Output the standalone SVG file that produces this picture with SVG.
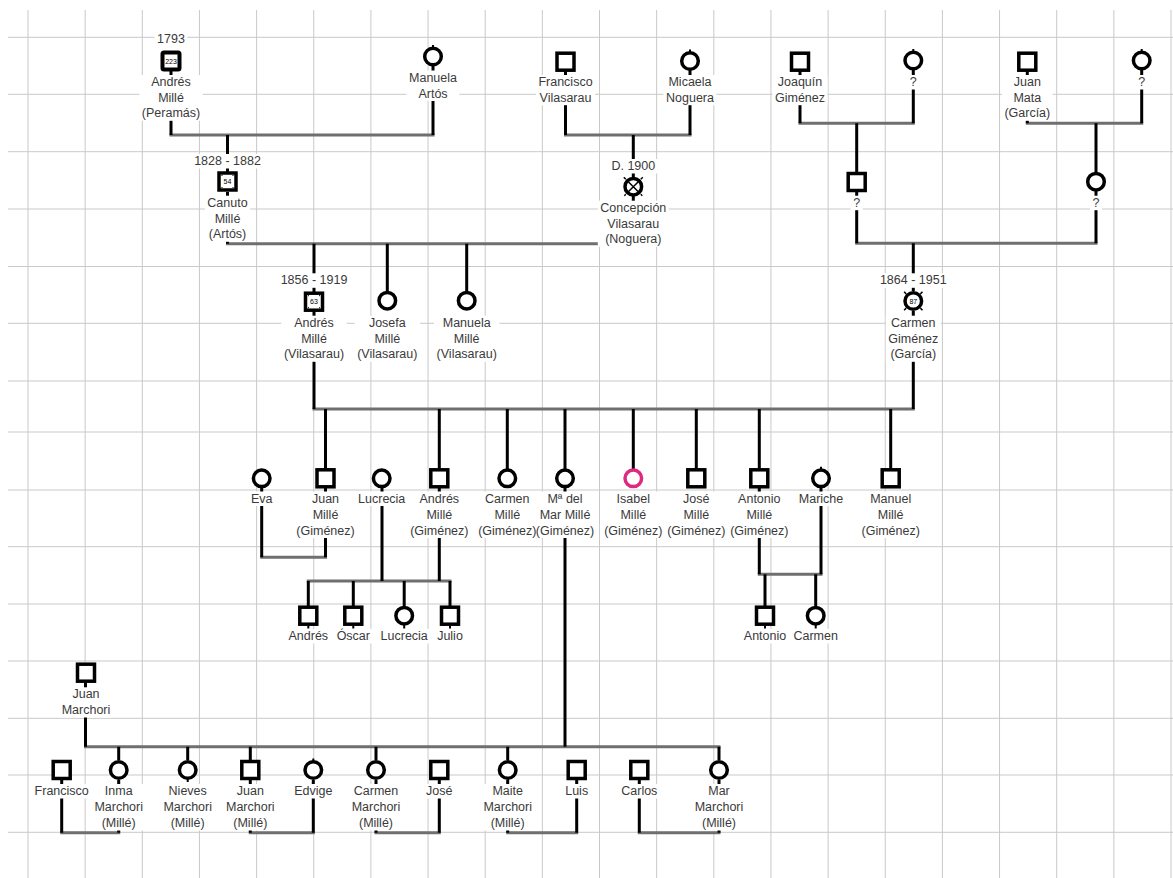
<svg xmlns="http://www.w3.org/2000/svg" width="1173" height="878" viewBox="0 0 1173 878">
<style>
.grid{stroke:#c9c9c9;stroke-width:1;fill:none}
.h{stroke:#6f6f6f;stroke-width:3;fill:none;stroke-linecap:square}
.v{stroke:#000;stroke-width:3;fill:none}
.lb{fill:#fff}
.t{font-family:"Liberation Sans",Arial,sans-serif;font-size:12.5px;fill:#3a3a3a;text-anchor:middle}
.s{fill:#fff;stroke:#000;stroke-width:3.5}
.pk{fill:#fff;stroke:#dd2a80;stroke-width:3.5}
.st{stroke:#000;stroke-width:2}
.num{font-family:"Liberation Sans",Arial,sans-serif;font-size:7px;fill:#000;text-anchor:middle}
.tk{stroke:#000;stroke-width:1.5}
</style>
<rect width="1173" height="878" fill="#fff"/>
<g id="grid" class="grid">
<path d="M28 10V878M85.15 10V878M142.3 10V878M199.45 10V878M256.6 10V878M313.75 10V878M370.9 10V878M428.05 10V878M485.2 10V878M542.35 10V878M599.5 10V878M656.65 10V878M713.8 10V878M770.95 10V878M828.1 10V878M885.25 10V878M942.4 10V878M999.55 10V878M1056.7 10V878M1113.85 10V878M1171 10V878"/>
<path d="M8 37.3H1173M8 94.3H1173M8 151.7H1173M8 209H1173M8 266.5H1173M8 323.3H1173M8 381H1173M8 432H1173M8 490H1173M8 546.7H1173M8 604H1173M8 661H1173M8 718.3H1173M8 775H1173M8 832.3H1173"/>
</g>
<g id="connectors">
<path class="h" d="M171 135H433M565.5 135H690M800 123.3H913.3M1027.3 123.3H1141.7M856.7 243.3H1096M227.5 243.7H633.3M314 409H913.3M261.7 557.3H325.5M308.3 581H450M759.3 574.3H821M85.5 746.7H719M61.7 832.7H118.7M250.3 832.7H313.3M376 832.7H439.3M507.7 832.7H576.7M639.3 832.7H719"/>
<path class="v" d="M171 71V135M433 66V135M227.5 135V172M565.5 71V135M690 70V135M633.3 135V177M800 71V123.3M913.3 69V123.3M856.7 123.3V172M1027.3 71V123.3M1141.7 69V123.3M1096 123.3V172M856.7 192V243.3M1096 191V243.3M913.3 243.3V291M227.5 192V243.7M633.3 196V243.7M314 243.7V292M387.3 243.7V291M466.7 243.7V291M314 311V409M913.3 311V409M325.5 409V469M439.3 409V469M507.3 409V469M565 409V469M633.3 409V469M696.3 409V469M759.3 409V469M890.7 409V469M261.7 488V557.3M325.5 488V557.3M382 488V581M439.3 488V581M308.3 581V606M353.3 581V606M404.2 581V606M450 581V606M759.3 488V574.3M821 488V574.3M765 574.3V606M815.7 574.3V606M565 488V746.7M85.5 683V746.7M118.7 746.7V760M187.7 746.7V760M250.3 746.7V760M376 746.7V760M507.7 746.7V760M719 746.7V760M61.7 780V832.7M118.7 780V832.7M250.3 780V832.7M313.3 780V832.7M376 780V832.7M439.3 780V832.7M507.7 780V832.7M576.7 780V832.7M639.3 780V832.7M719 780V832.7"/>
</g>
<g id="label-backgrounds" class="lb">
<rect x="154.6" y="32" width="32.8" height="14.5"/><rect x="139.4" y="75" width="63.3" height="45.8"/>
<rect x="406.5" y="70.5" width="52.9" height="30.5"/>
<rect x="535.9" y="75" width="59.2" height="30.2"/>
<rect x="663.5" y="75" width="52.9" height="30.2"/>
<rect x="772.5" y="75" width="55" height="30.2"/>
<rect x="907.3" y="75" width="12" height="14.5"/>
<rect x="1001.9" y="75" width="50.8" height="45.8"/>
<rect x="1135.7" y="75" width="12" height="14.5"/>
<rect x="191.65" y="154" width="71.7" height="14.5"/><rect x="204.85" y="195.7" width="45.3" height="46.1"/>
<rect x="608.9" y="159" width="48.8" height="14.5"/><rect x="597.8" y="200.7" width="71" height="46.1"/>
<rect x="850.7" y="195.7" width="12" height="14.5"/>
<rect x="1090" y="195.7" width="12" height="14.5"/>
<rect x="278.15" y="273.3" width="71.7" height="14.5"/><rect x="281.3" y="315.7" width="65.4" height="46.1"/>
<rect x="354.6" y="315.7" width="65.4" height="46.1"/>
<rect x="434" y="315.7" width="65.4" height="46.1"/>
<rect x="877.45" y="273.3" width="71.7" height="14.5"/><rect x="885.8" y="315.7" width="55" height="46.1"/>
<rect x="248.45" y="491.5" width="26.5" height="14.5"/>
<rect x="293.85" y="491.5" width="63.3" height="46.5"/>
<rect x="355.6" y="491.5" width="52.2" height="14.5"/>
<rect x="407.65" y="491.5" width="63.3" height="46.5"/>
<rect x="475.65" y="491.5" width="63.3" height="46.5"/>
<rect x="533.35" y="491.5" width="63.3" height="46.5"/>
<rect x="601.65" y="491.5" width="63.3" height="46.5"/>
<rect x="664.65" y="491.5" width="63.3" height="46.5"/>
<rect x="727.65" y="491.5" width="63.3" height="46.5"/>
<rect x="796.25" y="491.5" width="49.5" height="14.5"/>
<rect x="859.05" y="491.5" width="63.3" height="46.5"/>
<rect x="286" y="629" width="44.6" height="14.5"/>
<rect x="334.15" y="629" width="38.3" height="14.5"/>
<rect x="378.1" y="629" width="52.2" height="14.5"/>
<rect x="434.65" y="629" width="30.7" height="14.5"/>
<rect x="741.3" y="629" width="47.4" height="14.5"/>
<rect x="790.95" y="629" width="49.5" height="14.5"/>
<rect x="59.2" y="687.3" width="53.6" height="30.2"/>
<rect x="32.1" y="784" width="59.2" height="14.5"/>
<rect x="91.9" y="784" width="53.6" height="46.5"/>
<rect x="160.9" y="784" width="53.6" height="46.5"/>
<rect x="223.5" y="784" width="53.6" height="46.5"/>
<rect x="291.7" y="784" width="43.2" height="14.5"/>
<rect x="349.2" y="784" width="53.6" height="46.5"/>
<rect x="423.6" y="784" width="31.4" height="14.5"/>
<rect x="480.9" y="784" width="53.6" height="46.5"/>
<rect x="562.75" y="784" width="27.9" height="14.5"/>
<rect x="618.75" y="784" width="41.1" height="14.5"/>
<rect x="692.2" y="784" width="53.6" height="46.5"/>
</g>

<g id="n-andres-mille-peramas">
<text class="t" x="171" y="43">1793</text>
<rect class="s" x="162.5" y="52.5" width="17" height="17" rx="1.5" style="stroke-width:4"/>
<text class="num" x="171" y="63.7">223</text>
<line class="st" x1="171" y1="71" x2="171" y2="74"/>
<text class="t" x="171" y="86">Andrés</text><text class="t" x="171" y="101.7">Millé</text><text class="t" x="171" y="117.3">(Peramás)</text>
</g>
<g id="n-manuela-artos">
<circle class="s" cx="433" cy="56.5" r="8.3"/><line class="st" x1="433" y1="45" x2="433" y2="48"/>
<text class="t" x="433" y="81.5">Manuela</text><text class="t" x="433" y="97.5">Artós</text>
</g>
<g id="n-francisco-vilasarau">
<rect class="s" x="557" y="53.2" width="17" height="17"/>
<text class="t" x="565.5" y="86">Francisco</text><text class="t" x="565.5" y="101.7">Vilasarau</text>
</g>
<g id="n-micaela-noguera">
<circle class="s" cx="690" cy="61" r="8.3"/><line class="st" x1="690" y1="49.5" x2="690" y2="52.5"/>
<text class="t" x="690" y="86">Micaela</text><text class="t" x="690" y="101.7">Noguera</text>
</g>
<g id="n-joaquin-gimenez">
<rect class="s" x="791.5" y="53.2" width="17" height="17"/>
<text class="t" x="800" y="86">Joaquín</text><text class="t" x="800" y="101.7">Giménez</text>
</g>
<g id="n-unknown-1">
<circle class="s" cx="913.3" cy="60.5" r="8.3"/><line class="st" x1="913.3" y1="49" x2="913.3" y2="52"/>
<text class="t" x="913.3" y="86">?</text>
</g>
<g id="n-juan-mata-garcia">
<rect class="s" x="1018.8" y="53.2" width="17" height="17"/>
<text class="t" x="1027.3" y="86">Juan</text><text class="t" x="1027.3" y="101.7">Mata</text><text class="t" x="1027.3" y="117.3">(García)</text>
</g>
<g id="n-unknown-2">
<circle class="s" cx="1141.7" cy="60.5" r="8.3"/><line class="st" x1="1141.7" y1="49" x2="1141.7" y2="52"/>
<text class="t" x="1141.7" y="86">?</text>
</g>
<g id="n-canuto-mille-artos">
<text class="t" x="227.5" y="165">1828 - 1882</text>
<rect class="s" x="219" y="173" width="17" height="17"/>
<text class="num" x="227.5" y="184">54</text>
<path class="tk" d="M221.5 175.5h1M232.5 175.5h1M221.5 187.5h1M232.5 187.5h1" style="stroke-width:1"/>
<text class="t" x="227.5" y="206.7">Canuto</text><text class="t" x="227.5" y="222.5">Millé</text><text class="t" x="227.5" y="238.3">(Artós)</text>
</g>
<g id="n-concepcion-vilasarau-noguera">
<text class="t" x="633.3" y="170">D. 1900</text>
<circle class="s" cx="633.3" cy="186.7" r="8.3"/>
<path class="tk" d="M628.3 181.7L638.3 191.7M638.3 181.7L628.3 191.7M625.8 179.2L623.8 177.2M640.8 179.2L642.8 177.2M625.8 194.2L624.3 195.7M640.8 194.2L642.3 195.7"/>
<text class="t" x="633.3" y="211.7">Concepción</text><text class="t" x="633.3" y="227.5">Vilasarau</text><text class="t" x="633.3" y="243.3">(Noguera)</text>
</g>
<g id="n-unknown-3">
<rect class="s" x="848.2" y="173.5" width="17" height="17"/>
<text class="t" x="856.7" y="206.7">?</text>
</g>
<g id="n-unknown-4">
<circle class="s" cx="1096" cy="181.7" r="8.3"/>
<text class="t" x="1096" y="206.7">?</text>
</g>
<g id="n-andres-mille-vilasarau">
<text class="t" x="314" y="284.3">1856 - 1919</text>
<rect class="s" x="305.5" y="293.2" width="17" height="17"/>
<text class="num" x="314" y="304.2">63</text>
<path class="tk" d="M308 295.7h1M319 295.7h1M308 307.7h1M319 307.7h1" style="stroke-width:1"/>
<text class="t" x="314" y="326.7">Andrés</text><text class="t" x="314" y="342.5">Millé</text><text class="t" x="314" y="358.3">(Vilasarau)</text>
</g>
<g id="n-josefa-mille-vilasarau">
<circle class="s" cx="387.3" cy="300.7" r="8.3"/>
<text class="t" x="387.3" y="326.7">Josefa</text><text class="t" x="387.3" y="342.5">Millé</text><text class="t" x="387.3" y="358.3">(Vilasarau)</text>
</g>
<g id="n-manuela-mille-vilasarau">
<circle class="s" cx="466.7" cy="300.7" r="8.3"/>
<text class="t" x="466.7" y="326.7">Manuela</text><text class="t" x="466.7" y="342.5">Millé</text><text class="t" x="466.7" y="358.3">(Vilasarau)</text>
</g>
<g id="n-carmen-gimenez-garcia">
<text class="t" x="913.3" y="284.3">1864 - 1951</text>
<circle class="s" cx="913.3" cy="301" r="8.3"/>
<text class="num" x="913.3" y="303.5">87</text>
<path class="tk" d="M920.4 293.9L922.5 291.8M906.2 293.9L904.1 291.8M920.4 308.1L922.5 310.2M906.2 308.1L904.1 310.2"/>
<text class="t" x="913.3" y="326.7">Carmen</text><text class="t" x="913.3" y="342.5">Giménez</text><text class="t" x="913.3" y="358.3">(García)</text>
</g>

<g id="n-eva">
<circle class="s" cx="261.7" cy="478.3" r="8.3"/>
<text class="t" x="261.7" y="502.5">Eva</text>
</g>
<g id="n-juan-mille-gimenez">
<rect class="s" x="317" y="469.8" width="17" height="17"/>
<text class="t" x="325.5" y="502.5">Juan</text><text class="t" x="325.5" y="518.5">Millé</text><text class="t" x="325.5" y="534.5">(Giménez)</text>
</g>
<g id="n-lucrecia">
<circle class="s" cx="381.7" cy="478.3" r="8.3"/>
<text class="t" x="381.7" y="502.5">Lucrecia</text>
</g>
<g id="n-andres-mille-gimenez">
<rect class="s" x="430.8" y="469.8" width="17" height="17"/>
<text class="t" x="439.3" y="502.5">Andrés</text><text class="t" x="439.3" y="518.5">Millé</text><text class="t" x="439.3" y="534.5">(Giménez)</text>
</g>
<g id="n-carmen-mille-gimenez">
<circle class="s" cx="507.3" cy="478.3" r="8.3"/>
<text class="t" x="507.3" y="502.5">Carmen</text><text class="t" x="507.3" y="518.5">Millé</text><text class="t" x="507.3" y="534.5">(Giménez)</text>
</g>
<g id="n-mar-mille-gimenez">
<circle class="s" cx="565" cy="478.3" r="8.3"/>
<text class="t" x="565" y="502.5">Mª del</text><text class="t" x="565" y="518.5">Mar Millé</text><text class="t" x="565" y="534.5">(Giménez)</text>
</g>
<g id="n-isabel-mille-gimenez">
<circle class="pk" cx="633.3" cy="478.3" r="8.3"/>
<text class="t" x="633.3" y="502.5">Isabel</text><text class="t" x="633.3" y="518.5">Millé</text><text class="t" x="633.3" y="534.5">(Giménez)</text>
</g>
<g id="n-jose-mille-gimenez">
<rect class="s" x="687.8" y="469.8" width="17" height="17"/>
<text class="t" x="696.3" y="502.5">José</text><text class="t" x="696.3" y="518.5">Millé</text><text class="t" x="696.3" y="534.5">(Giménez)</text>
</g>
<g id="n-antonio-mille-gimenez">
<rect class="s" x="750.8" y="469.8" width="17" height="17"/>
<text class="t" x="759.3" y="502.5">Antonio</text><text class="t" x="759.3" y="518.5">Millé</text><text class="t" x="759.3" y="534.5">(Giménez)</text>
</g>
<g id="n-mariche">
<circle class="s" cx="821" cy="478.3" r="8.3"/><line class="st" x1="821" y1="466.8" x2="821" y2="469.8"/>
<text class="t" x="821" y="502.5">Mariche</text>
</g>
<g id="n-manuel-mille-gimenez">
<rect class="s" x="882.2" y="469.8" width="17" height="17"/>
<text class="t" x="890.7" y="502.5">Manuel</text><text class="t" x="890.7" y="518.5">Millé</text><text class="t" x="890.7" y="534.5">(Giménez)</text>
</g>

<g id="n-andres-jr">
<rect class="s" x="299.8" y="607.2" width="17" height="17"/><line class="st" x1="308.3" y1="625.7" x2="308.3" y2="628.5"/>
<text class="t" x="308.3" y="640">Andrés</text>
</g>
<g id="n-oscar">
<rect class="s" x="344.8" y="607.2" width="17" height="17"/><line class="st" x1="353.3" y1="625.7" x2="353.3" y2="628.5"/>
<text class="t" x="353.3" y="640">Óscar</text>
</g>
<g id="n-lucrecia-jr">
<circle class="s" cx="404.2" cy="615.7" r="8.3"/><line class="st" x1="404.2" y1="624" x2="404.2" y2="628.5"/>
<text class="t" x="404.2" y="640">Lucrecia</text>
</g>
<g id="n-julio">
<rect class="s" x="441.5" y="607.2" width="17" height="17"/><line class="st" x1="450" y1="625.7" x2="450" y2="628.5"/>
<text class="t" x="450" y="640">Julio</text>
</g>
<g id="n-antonio-jr">
<rect class="s" x="756.5" y="607.2" width="17" height="17"/><line class="st" x1="765" y1="625.7" x2="765" y2="628.5"/>
<text class="t" x="765" y="640">Antonio</text>
</g>
<g id="n-carmen-jr">
<circle class="s" cx="815.7" cy="615.7" r="8.3"/><line class="st" x1="815.7" y1="624" x2="815.7" y2="628.5"/>
<text class="t" x="815.7" y="640">Carmen</text>
</g>

<g id="n-juan-marchori">
<rect class="s" x="77.5" y="664.2" width="17" height="17"/>
<text class="t" x="86" y="698.3">Juan</text><text class="t" x="86" y="714">Marchori</text>
</g>
<g id="n-francisco">
<rect class="s" x="53.2" y="761.5" width="17" height="17"/>
<text class="t" x="61.7" y="795">Francisco</text>
</g>
<g id="n-inma-marchori-mille">
<circle class="s" cx="118.7" cy="770" r="8.3"/>
<text class="t" x="118.7" y="795">Inma</text><text class="t" x="118.7" y="811">Marchori</text><text class="t" x="118.7" y="827">(Millé)</text>
</g>
<g id="n-nieves-marchori-mille">
<circle class="s" cx="187.7" cy="770" r="8.3"/><line class="st" x1="187.7" y1="778" x2="187.7" y2="782"/>
<text class="t" x="187.7" y="795">Nieves</text><text class="t" x="187.7" y="811">Marchori</text><text class="t" x="187.7" y="827">(Millé)</text>
</g>
<g id="n-juan-marchori-mille">
<rect class="s" x="241.8" y="761.5" width="17" height="17"/>
<text class="t" x="250.3" y="795">Juan</text><text class="t" x="250.3" y="811">Marchori</text><text class="t" x="250.3" y="827">(Millé)</text>
</g>
<g id="n-edvige">
<circle class="s" cx="313.3" cy="770" r="8.3"/><line class="st" x1="313.3" y1="758.5" x2="313.3" y2="761.5"/>
<text class="t" x="313.3" y="795">Edvige</text>
</g>
<g id="n-carmen-marchori-mille">
<circle class="s" cx="376" cy="770" r="8.3"/>
<text class="t" x="376" y="795">Carmen</text><text class="t" x="376" y="811">Marchori</text><text class="t" x="376" y="827">(Millé)</text>
</g>
<g id="n-jose">
<rect class="s" x="430.8" y="761.5" width="17" height="17"/>
<text class="t" x="439.3" y="795">José</text>
</g>
<g id="n-maite-marchori-mille">
<circle class="s" cx="507.7" cy="770" r="8.3"/>
<text class="t" x="507.7" y="795">Maite</text><text class="t" x="507.7" y="811">Marchori</text><text class="t" x="507.7" y="827">(Millé)</text>
</g>
<g id="n-luis">
<rect class="s" x="568.2" y="761.5" width="17" height="17"/>
<text class="t" x="576.7" y="795">Luis</text>
</g>
<g id="n-carlos">
<rect class="s" x="630.8" y="761.5" width="17" height="17"/>
<text class="t" x="639.3" y="795">Carlos</text>
</g>
<g id="n-mar-marchori-mille">
<circle class="s" cx="719" cy="770" r="8.3"/>
<text class="t" x="719" y="795">Mar</text><text class="t" x="719" y="811">Marchori</text><text class="t" x="719" y="827">(Millé)</text>
</g>
</svg>
